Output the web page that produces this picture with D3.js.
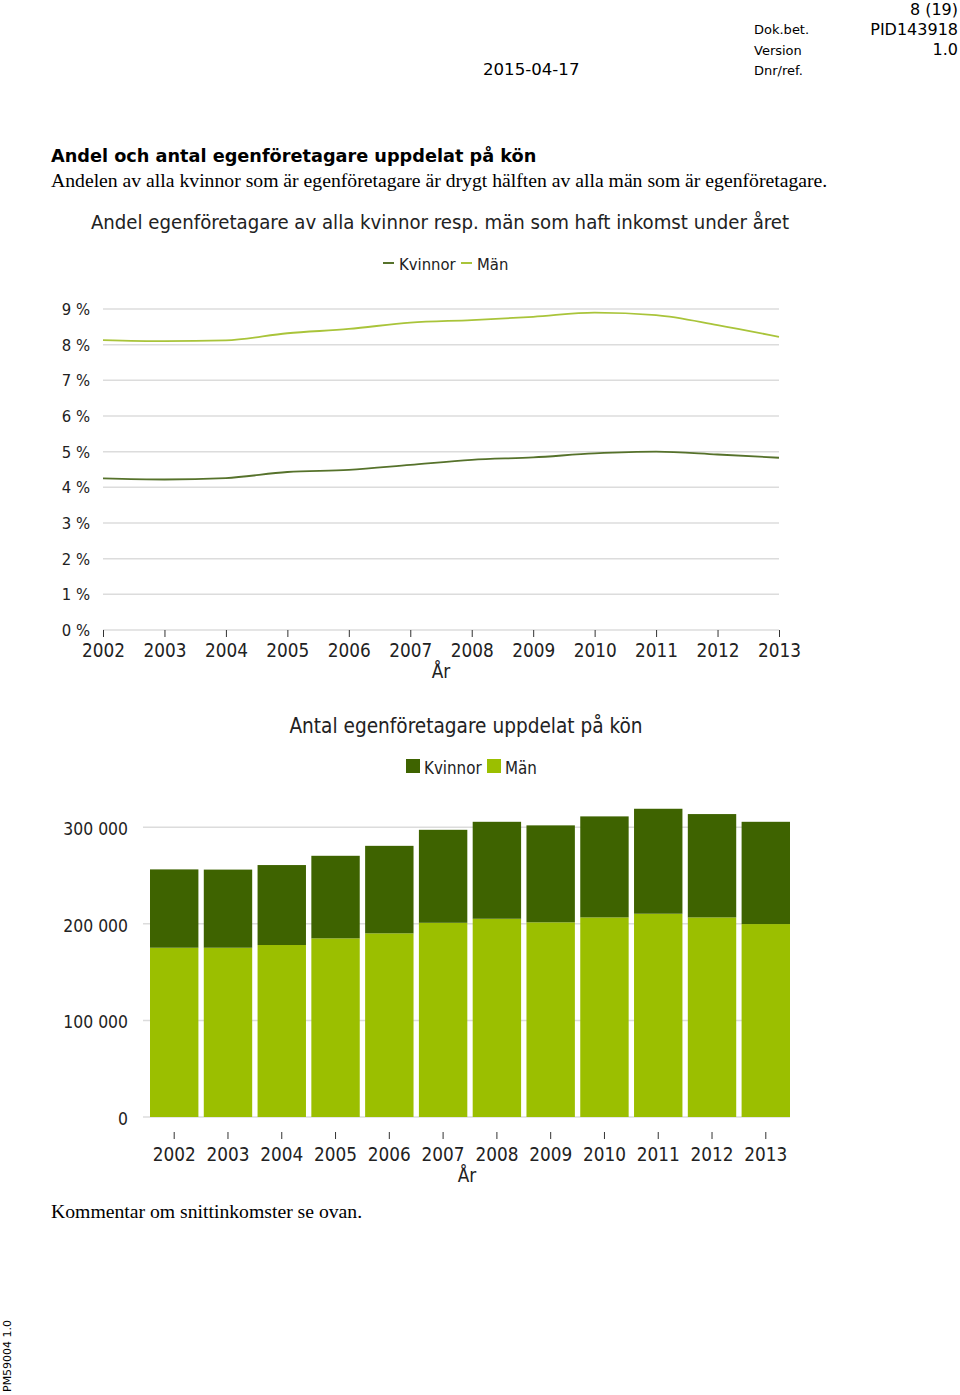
<!DOCTYPE html>
<html><head><meta charset="utf-8">
<script src="https://cdn.jsdelivr.net/npm/d3@7"></script>
<style>
body{margin:0;background:#fff;}
svg{display:block;}
.cf{font-family:"DejaVu Sans Condensed","DejaVu Sans",sans-serif;font-stretch:condensed;fill:#222;}
.vd{font-family:"DejaVu Sans",Verdana,sans-serif;fill:#000;}
.sf{font-family:"Liberation Serif","Times New Roman",serif;fill:#000;}
</style></head>
<body>
<svg id="page" width="960" height="1395"></svg>
<script>
const years = ["2002","2003","2004","2005","2006","2007","2008","2009","2010","2011","2012","2013"];
// Share of self-employed (%) among all with income
const shareKvinnor = [4.25,4.22,4.26,4.43,4.49,4.63,4.77,4.84,4.95,5.00,4.92,4.83];
const shareMan     = [8.13,8.10,8.12,8.32,8.44,8.62,8.69,8.78,8.90,8.83,8.55,8.22];
const shareTicks   = [0,1,2,3,4,5,6,7,8,9];
// Number of self-employed
const antalKvinnor = [81100,80900,82800,85500,90600,96300,100400,100400,104600,108700,107000,105900];
const antalMan     = [175300,175300,178100,185000,190200,201100,205300,201600,206700,210500,206700,199800];
const antalTicks   = [0,100000,200000,300000];
const seriesNames  = ["Kvinnor","Män"];

const cDarkLine="#56722b", cLightLine="#a9c43a";
const cDarkBar="#3e6300", cLightBar="#9bbf00";
const grid="#dcdcdc";

const svg=d3.select("#page");

// ---------- header ----------
const hdr=[
 {t:"8 (19)",x:958,y:15,s:16,a:"end"},
 {t:"PID143918",x:958,y:35,s:16,a:"end"},
 {t:"1.0",x:958,y:55,s:16,a:"end"},
 {t:"Dok.bet.",x:754,y:34,s:13,a:"start"},
 {t:"Version",x:754,y:55,s:13,a:"start"},
 {t:"Dnr/ref.",x:754,y:75,s:13,a:"start"},
 {t:"2015-04-17",x:483,y:75,s:16.6,a:"start"}
];
svg.selectAll("text.hdr").data(hdr).join("text").attr("class","vd hdr")
 .attr("x",d=>d.x).attr("y",d=>d.y).attr("font-size",d=>d.s).attr("text-anchor",d=>d.a).text(d=>d.t);

svg.append("text").attr("class","vd").attr("x",51).attr("y",162).attr("font-size",17.7).attr("font-weight","bold")
 .text("Andel och antal egenföretagare uppdelat på kön");
svg.append("text").attr("class","sf").attr("x",51).attr("y",187).attr("font-size",19.7)
 .text("Andelen av alla kvinnor som är egenföretagare är drygt hälften av alla män som är egenföretagare.");
svg.append("text").attr("class","sf").attr("x",51).attr("y",1218).attr("font-size",19.7)
 .text("Kommentar om snittinkomster se ovan.");
svg.append("text").attr("class","vd").attr("font-size",11)
 .attr("transform","translate(11,1392) rotate(-90)").text("PM59004 1.0");

// ---------- line chart ----------
const g1=svg.append("g");
const x1=d3.scalePoint().domain(years).range([103,779]);
const y1=d3.scaleLinear().domain([0,9]).range([630,309]);

g1.append("text").attr("class","cf").attr("x",440).attr("y",229).attr("font-size",20.2).attr("text-anchor","middle")
 .text("Andel egenföretagare av alla kvinnor resp. män som haft inkomst under året");

// legend
const lg1=g1.append("g");
const leg1=[{n:seriesNames[0],c:cDarkLine,x:383},{n:seriesNames[1],c:cLightLine,x:461}];
lg1.selectAll("line").data(leg1).join("line").attr("x1",d=>d.x).attr("x2",d=>d.x+11).attr("y1",263).attr("y2",263)
 .attr("stroke",d=>d.c).attr("stroke-width",2);
lg1.selectAll("text").data(leg1).join("text").attr("class","cf").attr("x",d=>d.x+16).attr("y",270).attr("font-size",16.5).text(d=>d.n);

// grid
g1.selectAll("line.grid").data(shareTicks).join("line").attr("class","grid")
 .attr("x1",103).attr("x2",779).attr("y1",d=>y1(d)).attr("y2",d=>y1(d))
 .attr("stroke",grid).attr("stroke-width",1.5);
g1.selectAll("text.ylab").data(shareTicks).join("text").attr("class","cf ylab")
 .attr("x",90).attr("y",d=>y1(d)+6).attr("font-size",16.5).attr("text-anchor","end").text(d=>d+" %");

// x axis
const ax1=g1.append("g").attr("transform","translate(0,630)").call(d3.axisBottom(x1).tickSize(7).tickPadding(7));
ax1.select(".domain").remove();
ax1.selectAll(".tick line").attr("stroke","#333");
ax1.selectAll(".tick text").attr("class","cf").attr("font-size",18.8).attr("fill","#222");
g1.append("text").attr("class","cf").attr("x",441).attr("y",678).attr("font-size",18.8).attr("text-anchor","middle").text("År");

const line1=d3.line().x((d,i)=>x1(years[i])).y(d=>y1(d)).curve(d3.curveMonotoneX);
g1.append("path").datum(shareMan).attr("d",line1).attr("fill","none").attr("stroke",cLightLine).attr("stroke-width",1.8);
g1.append("path").datum(shareKvinnor).attr("d",line1).attr("fill","none").attr("stroke",cDarkLine).attr("stroke-width",1.8);

// ---------- bar chart ----------
const g2=svg.append("g");
const x2=d3.scaleBand().domain(years).range([150,790]).paddingInner(0.1).paddingOuter(0);
const y2=d3.scaleLinear().domain([0,300000]).range([1117,827.3]);

g2.append("text").attr("class","cf").attr("x",466).attr("y",733).attr("font-size",20.6).attr("text-anchor","middle")
 .text("Antal egenföretagare uppdelat på kön");
const leg2=[{n:seriesNames[0],c:cDarkBar,x:406},{n:seriesNames[1],c:cLightBar,x:487}];
g2.selectAll("rect.leg").data(leg2).join("rect").attr("class","leg").attr("x",d=>d.x).attr("y",759).attr("width",14).attr("height",14).attr("fill",d=>d.c);
g2.selectAll("text.leg").data(leg2).join("text").attr("class","cf leg").attr("x",d=>d.x+18).attr("y",774).attr("font-size",16.8).text(d=>d.n);

g2.selectAll("line.grid").data(antalTicks).join("line").attr("class","grid")
 .attr("x1",143).attr("x2",790).attr("y1",d=>y2(d)).attr("y2",d=>y2(d)).attr("stroke",grid).attr("stroke-width",1.5);
const fmt=d=>d===0?"0":d3.format(",")(d).replace(/,/g," ");
g2.selectAll("text.ylab").data(antalTicks).join("text").attr("class","cf ylab")
 .attr("x",128).attr("y",d=>y2(d)+8).attr("font-size",17.4).attr("text-anchor","end").text(fmt);

const rows=years.map((y,i)=>({year:y,man:antalMan[i],kvinnor:antalKvinnor[i]}));
const stack=d3.stack().keys(["man","kvinnor"])(rows);
const colors={man:cLightBar,kvinnor:cDarkBar};
g2.selectAll("g.layer").data(stack).join("g").attr("class","layer").attr("fill",d=>colors[d.key])
 .selectAll("rect").data(d=>d).join("rect")
 .attr("x",d=>x2(d.data.year)).attr("width",x2.bandwidth())
 .attr("y",d=>y2(d[1])).attr("height",d=>y2(d[0])-y2(d[1]));

const ax2=g2.append("g").attr("transform","translate(0,1132)").call(d3.axisBottom(x2).tickSize(7).tickPadding(9));
ax2.select(".domain").remove();
ax2.selectAll(".tick line").attr("stroke","#333");
ax2.selectAll(".tick text").attr("class","cf").attr("font-size",18.8).attr("fill","#222");
g2.append("text").attr("class","cf").attr("x",467).attr("y",1182).attr("font-size",18.8).attr("text-anchor","middle").text("År");
</script>
</body></html>
